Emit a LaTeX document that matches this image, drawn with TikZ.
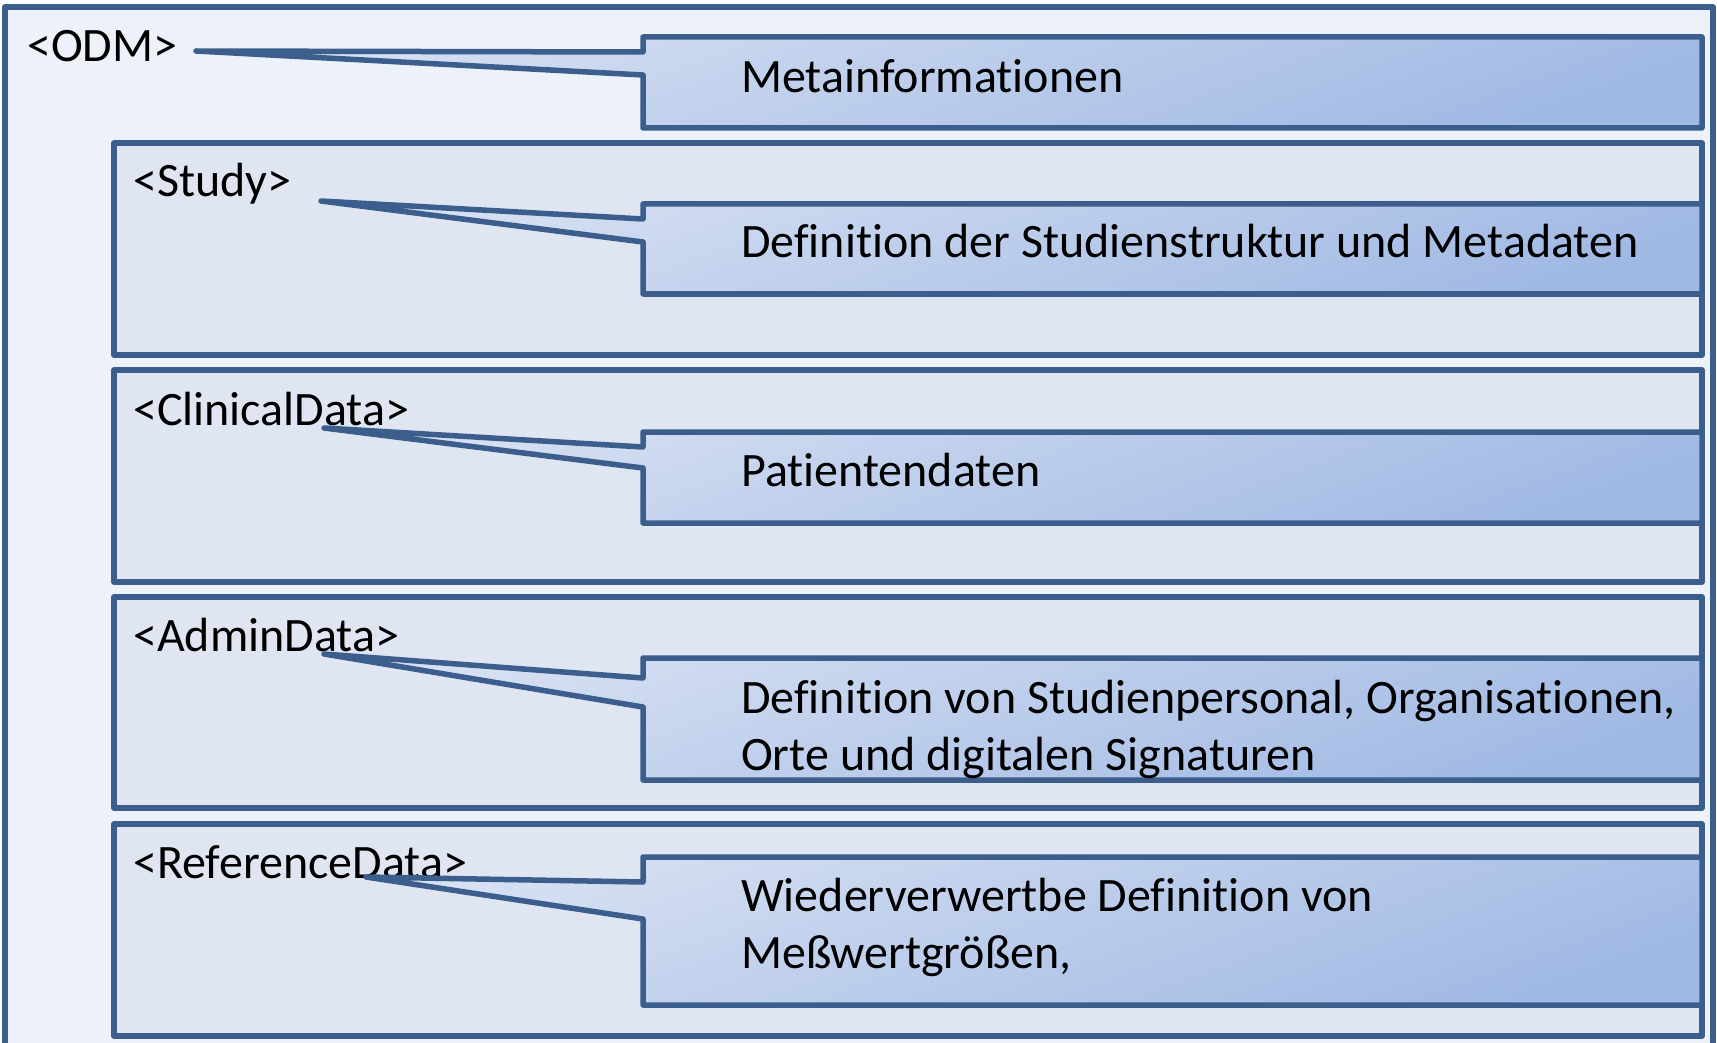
\documentclass[tikz,border=0pt]{standalone}
\usepackage{fontspec}
\setmainfont{Carlito}[Ligatures=NoCommon]
\definecolor{odmline}{RGB}{59,94,140}
\definecolor{odmback}{RGB}{237,241,249}
\definecolor{boxback}{RGB}{223,230,242}
\definecolor{calltop}{RGB}{214,224,242}
\definecolor{callbottom}{RGB}{160,185,228}
\tikzset{
	frame/.style={draw=odmline, line width=5.5pt, line join=round},
	callout/.style={draw=odmline, line width=5.5pt, line join=round, line cap=round,
		top color=calltop, bottom color=callbottom, shading angle=20},
	tag/.style={anchor=base west, inner sep=0pt, font=\fontsize{48}{56}\selectfont},
	note/.style={anchor=base west, inner sep=0pt, align=left, font=\fontsize{48}{57}\selectfont}
}
\begin{document}
\begin{tikzpicture}[x=1pt,y=-1pt]
		
		\clip (0,0) rectangle (1717,1043);
		\fill[white] (0,0) rectangle (1717,1043);
		
		%Outer ODM frame
		\draw[frame, fill=odmback] (5,7) rectangle (1713,1080);
		\node[tag] (odm) at (27,62) {<ODM>};
		
		%Inner frames
		\draw[frame, fill=boxback] (114,143) rectangle (1702,355);
		\node[tag] (study) at (133,197) {<Study>};
		\draw[frame, fill=boxback] (114,370) rectangle (1702,582);
		\node[tag] (clinical) at (133,425) {<ClinicalData>};
		\draw[frame, fill=boxback] (114,597) rectangle (1702,808);
		\node[tag] (admin) at (133,651) {<AdminData>};
		\draw[frame, fill=boxback] (114,824) rectangle (1702,1036);
		\node[tag] (refdata) at (133,878) {<ReferenceData>};
		
		%Callout tips
		\coordinate (odmtip) at (196,51);
		\coordinate (studytip) at (321,201);
		\coordinate (clinicaltip) at (324,428);
		\coordinate (admintip) at (324,654);
		\coordinate (reftip) at (366,877);
		
		%Callouts
		\draw[callout] (643,37) -- (643,52) -- (odmtip) -- (643,75) -- (643,128) -- (1702,128) -- (1702,37) -- cycle;
		\draw[callout] (643,204) -- (643,219) -- (studytip) -- (643,242) -- (643,294) -- (1702,294) -- (1702,204) -- cycle;
		\draw[callout] (643,432) -- (643,447) -- (clinicaltip) -- (643,468) -- (643,523) -- (1702,523) -- (1702,432) -- cycle;
		\draw[callout] (643,658) -- (643,678) -- (admintip) -- (643,707) -- (643,780) -- (1702,780) -- (1702,658) -- cycle;
		\draw[callout] (643,857) -- (643,882) -- (reftip) -- (643,919) -- (643,1005) -- (1702,1005) -- (1702,857) -- cycle;
		
		%Callout texts
		\node[note] (metainfo) at (741,93) {Metainformationen};
		\node[note] (studydef) at (741,258) {Definition der Studienstruktur und Metadaten};
		\node[note] (patients) at (741,486) {Patientendaten};
		\node[note] (admindef) at (741,770) {Definition von Studienpersonal, Organisationen,\\Orte und digitalen Signaturen};
		\node[note] (refdef) at (741,968) {Wiederverwertbe Definition von\\Meßwertgrößen,};
		
		\end{tikzpicture}
\end{document}
